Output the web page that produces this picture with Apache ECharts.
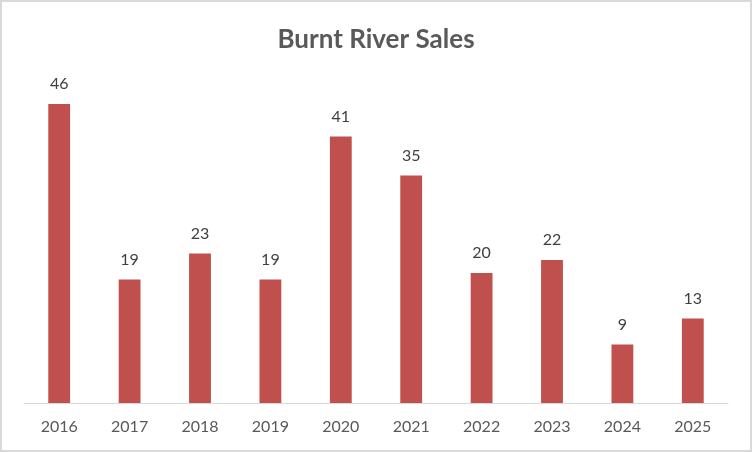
<!DOCTYPE html>
<html>
<head>
<meta charset="utf-8">
<script src="https://cdn.jsdelivr.net/npm/echarts@6/dist/echarts.min.js"></script>
<style>
  html, body { margin: 0; padding: 0; background: #fff; }
  #chart { width: 752px; height: 452px; box-sizing: border-box; border: 2px solid #d9d9d9; }
</style>
</head>
<body>
<div id="chart"></div>
<script>
const years = ['2016', '2017', '2018', '2019', '2020', '2021', '2022', '2023', '2024', '2025'];
const sales = [46, 19, 23, 19, 41, 35, 20, 22, 9, 13];

const myChart = echarts.init(document.getElementById('chart'));

const option = {
  animation: false,
  title: {
    text: 'Burnt River Sales',
    left: 'center',
    top: 20,
    textStyle: {
      color: '#595959',
      fontFamily: 'Lato',
      fontWeight: 'bold',
      fontSize: 26
    }
  },
  grid: {
    left: 22,
    right: 22,
    top: 76,
    bottom: 47
  },
  xAxis: {
    type: 'category',
    data: years,
    axisLine: { lineStyle: { color: '#d9d9d9', width: 1 } },
    axisTick: { show: false },
    axisLabel: {
      color: '#595959',
      fontFamily: 'Lato',
      fontSize: 16,
      margin: 16
    }
  },
  yAxis: {
    type: 'value',
    min: 0,
    max: 50,
    show: false,
    splitLine: { show: false }
  },
  series: [
    {
      type: 'bar',
      data: sales,
      barWidth: '31%',
      itemStyle: { color: '#c0504d' },
      label: {
        show: true,
        position: 'top',
        distance: 12,
        color: '#404040',
        fontFamily: 'Lato',
        fontSize: 16
      }
    }
  ]
};

myChart.setOption(option);
</script>
</body>
</html>
